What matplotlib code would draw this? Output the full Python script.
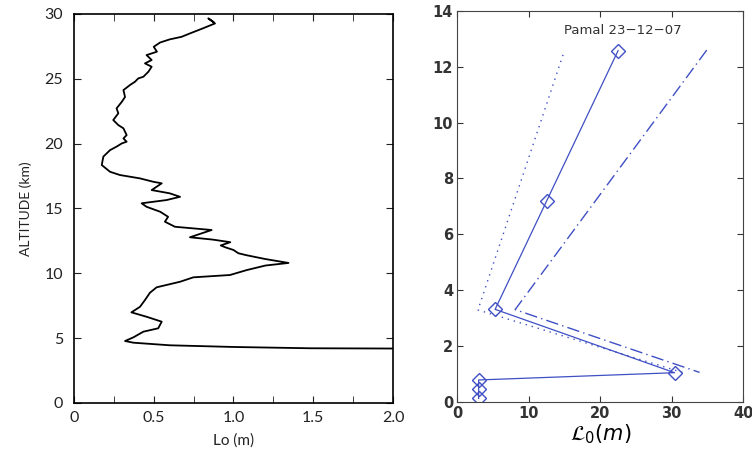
import numpy as np
import matplotlib
matplotlib.use("Agg")
from matplotlib import pyplot as plt
from matplotlib.ticker import MultipleLocator

# outer scale profile (balloon sounding): Lo [m] vs altitude [km], bottom to top
lo_m = [2.0, 1.48, 1.0, 0.6, 0.372, 0.32, 0.372, 0.435, 0.528, 0.55, 0.455,
        0.36, 0.414, 0.445, 0.476, 0.518, 0.665, 0.748, 0.978, 1.083, 1.20,
        1.345, 1.2, 1.08, 1.03, 1.0, 0.95, 0.92, 0.98, 0.87, 0.727, 0.863,
        0.633, 0.57, 0.59, 0.54, 0.455, 0.424, 0.58, 0.665, 0.60, 0.487,
        0.55, 0.497, 0.414, 0.288, 0.226, 0.174, 0.184, 0.226, 0.267, 0.30,
        0.33, 0.31, 0.33, 0.31, 0.278, 0.246, 0.278, 0.267, 0.30, 0.32,
        0.31, 0.351, 0.382, 0.403, 0.435, 0.466, 0.487, 0.445, 0.487, 0.455,
        0.52, 0.50, 0.54, 0.60, 0.675, 0.727, 0.81, 0.884, 0.842, 0.873]
alt_km = [4.2, 4.22, 4.32, 4.45, 4.65, 4.78, 5.06, 5.5, 5.76, 6.27, 6.65,
          6.99, 7.42, 7.94, 8.5, 8.92, 9.35, 9.69, 9.87, 10.25, 10.6, 10.8,
          11.1, 11.4, 11.55, 11.8, 12.0, 12.15, 12.4, 12.6, 12.78, 13.34,
          13.59, 13.98, 14.36, 14.75, 15.13, 15.4, 15.65, 15.9, 16.17,
          16.42, 16.94, 17.06, 17.32, 17.58, 17.83, 18.35, 19.0, 19.5,
          19.77, 20.02, 20.15, 20.4, 20.66, 21.18, 21.43, 21.82, 22.34,
          22.72, 23.23, 23.6, 24.13, 24.52, 24.77, 25.03, 25.16, 25.54,
          25.93, 26.19, 26.45, 26.83, 27.09, 27.47, 27.8, 28.04, 28.24,
          28.5, 28.9, 29.27, 29.66, 29.4]

# Pamal 23-12-07 estimates
L0_est = [3.0, 3.0, 3.0, 30.4, 5.3, 12.5, 22.5]
h_est = [0.12, 0.44, 0.78, 1.04, 3.31, 7.19, 12.58]
L0_low = [14.8, 2.9, 31.5]
h_low = [12.43, 3.29, 1.05]
L0_high = [34.9, 8.1, 33.9]
h_high = [12.6, 3.3, 1.05]

blue = "#3f4fc4"

fig = plt.figure(figsize=(7.52, 4.55), dpi=100)

# left panel
ax1 = fig.add_axes([0.0984, 0.1143, 0.4242, 0.855])
ax1.plot(lo_m, alt_km, color="black", lw=1.3)
ax1.set_xlim(0, 2.0)
ax1.set_ylim(0, 30)
ax1.xaxis.set_minor_locator(MultipleLocator(0.25))
ax1.yaxis.set_major_locator(MultipleLocator(5))
ax1.set_xticks([0, 0.5, 1.0, 1.5, 2.0])
ax1.set_xticklabels(["0", "0.5", "1.0", "1.5", "2.0"])
ax1.tick_params(which="both", direction="in", top=True, right=True,
                labelsize=11.5, colors="#222222", length=5)
ax1.tick_params(axis="x", pad=6)
ax1.tick_params(axis="y", pad=8)
for lab in ax1.get_xticklabels() + ax1.get_yticklabels():
    lab.set_fontfamily("Lato")
for s in ax1.spines.values():
    s.set_linewidth(1.2)
ax1.set_xlabel("Lo (m)", fontsize=11, labelpad=6, family="Lato",
               color="#222222")
ax1.set_ylabel("ALTITUDE (km)", fontsize=10, labelpad=9, family="Lato",
               color="#222222")

# right panel
ax2 = fig.add_axes([0.608, 0.1171, 0.3803, 0.8587])
ax2.plot(L0_low, h_low, color=blue, lw=1.0, dashes=(1, 3.5))
ax2.plot(L0_high, h_high, color=blue, lw=1.0, dashes=(9, 3, 1, 3))
ax2.plot(L0_est, h_est, "-", color=blue, lw=0.9, marker="D",
         markersize=7.5, markerfacecolor="none", markeredgecolor=blue,
         markeredgewidth=1.0)
ax2.text(23.2, 13.3, "Pamal 23\u221212\u221207", fontsize=9.5,
         color="#333333", ha="center", va="center")
ax2.set_xlim(0, 40)
ax2.set_ylim(0, 14)
ax2.xaxis.set_major_locator(MultipleLocator(10))
ax2.yaxis.set_major_locator(MultipleLocator(2))
ax2.tick_params(direction="in", top=True, right=True, labelsize=10.5,
                colors="#333333", length=4, pad=3)
for lab in ax2.get_xticklabels() + ax2.get_yticklabels():
    lab.set_fontweight("bold")
for s in ax2.spines.values():
    s.set_color("#444444")
ax2.set_xlabel(r"$\mathcal{L}_0(m)$", fontsize=15, labelpad=1)

fig.savefig("out.png", dpi=100)
